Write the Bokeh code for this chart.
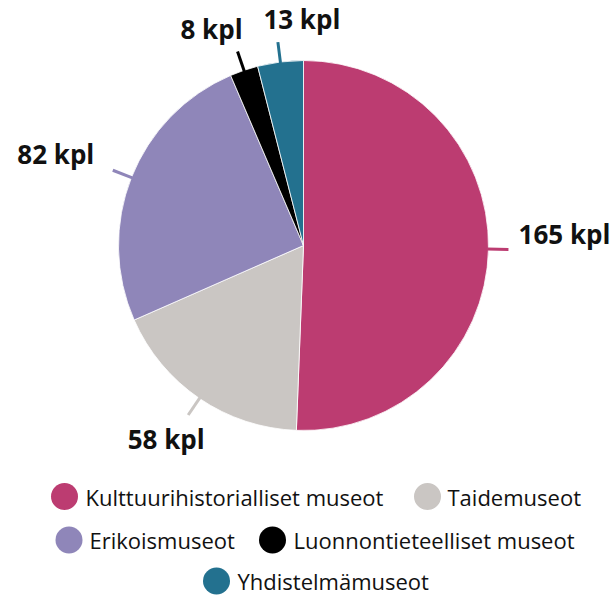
import math
from bokeh.plotting import figure
from bokeh.models import Range1d
from bokeh.core.properties import value
from bokeh.embed import file_html
from bokeh.resources import INLINE

# ---- data ----
categories = ["Kulttuurihistorialliset museot", "Taidemuseot", "Erikoismuseot",
              "Luonnontieteelliset museot", "Yhdistelmämuseot"]
counts = [165, 58, 82, 8, 13]
label_texts = [f"{c} kpl" for c in counts]
colors = ["#bc3c71", "#cac6c3", "#8f86b9", "#000000", "#23718f"]

# ---- layout (picture pixel coordinates; data y = -pixel y) ----
CX, CY, R = 303, 245, 185
LEAD_IN, LEAD_OUT = 184, 205
label_offsets = [(56, -15), (-22, 24), (-57, -16), (-26, -22), (24, -23)]
legend_circle_x = [64, 427, 68.5, 272, 216]
legend_text_x = [85, 447, 89, 293, 237]
legend_row_y = [496, 539.5, 580.5]
legend_row_of = [0, 0, 1, 1, 2]

W, H = 615, 595
p = figure(width=W, height=H, output_backend="svg", toolbar_location=None,
           x_range=Range1d(0, W), y_range=Range1d(-H, 0),
           min_border=0)
p.axis.visible = False
p.grid.visible = False
p.outline_line_color = None
p.background_fill_color = "white"
p.border_fill_color = "white"

total = float(sum(counts))
cum = [0.0]
for c in counts:
    cum.append(cum[-1] + c)

starts = [math.pi / 2 - 2 * math.pi * cum[i] / total for i in range(len(counts))]
ends = [math.pi / 2 - 2 * math.pi * cum[i + 1] / total for i in range(len(counts))]

p.wedge(x=[CX] * len(counts), y=[-CY] * len(counts), radius=R,
        start_angle=starts, end_angle=ends, direction="clock",
        fill_color=colors, line_color="white", line_width=0.8)

# leader lines & labels
for i, c in enumerate(counts):
    theta = 2 * math.pi * (cum[i] + c / 2) / total  # clockwise from top
    sx, sy = math.sin(theta), math.cos(theta)
    x0, y0 = CX + LEAD_IN * sx, CY - LEAD_IN * sy
    x1, y1 = CX + LEAD_OUT * sx, CY - LEAD_OUT * sy
    p.segment(x0=[x0], y0=[-y0], x1=[x1], y1=[-y1], line_color=colors[i],
              line_width=3)
    dx, dy = label_offsets[i]
    p.text(x=[x1 + dx], y=[-(y1 + dy)], text=[label_texts[i]],
           text_font=value("Open Sans"), text_font_style="bold",
           text_font_size="26px", text_align="center",
           text_baseline="alphabetic", text_color="#111111")

# legend
for i, cat in enumerate(categories):
    ry = legend_row_y[legend_row_of[i]]
    p.scatter(x=[legend_circle_x[i]], y=[-ry], size=27, marker="circle",
              fill_color=colors[i], line_color=None)
    p.text(x=[legend_text_x[i]], y=[-ry], text=[cat],
           text_font=value("Open Sans"), text_font_size="22px",
           text_align="left", text_baseline="middle", text_color="#111111")

open("out.html", "w").write(file_html(p, INLINE))
